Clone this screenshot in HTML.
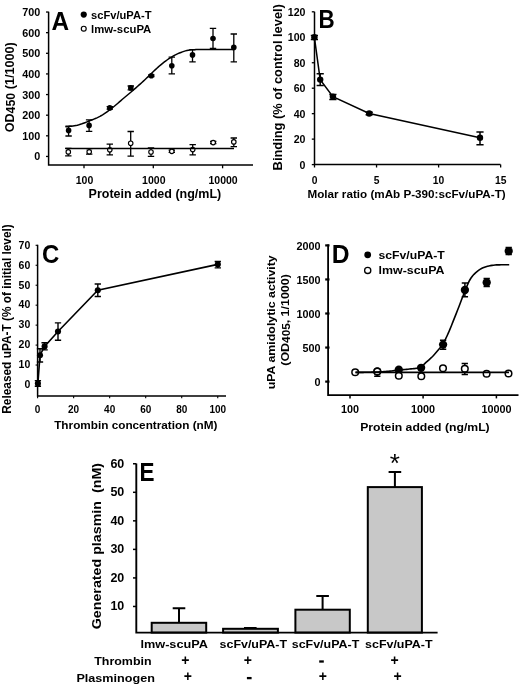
<!DOCTYPE html>
<html><head><meta charset="utf-8"><style>
html,body{margin:0;padding:0;background:#fff;}
svg{display:block;filter:grayscale(1);}
text{font-family:"Liberation Sans", sans-serif;fill:#000;white-space:pre;}
</style></head><body>
<svg width="520" height="686" viewBox="0 0 520 686" stroke="#000" fill="none">
<rect x="0" y="0" width="520" height="686" fill="#fff" stroke="none"/>
<g stroke="#000">
<path d="M48.6,11.8V165.0H253" stroke-width="1.5" fill="none"/>
<line x1="46.00" y1="156.45" x2="48.60" y2="156.45" stroke-width="1.3"/>
<text stroke="none" x="40.30" y="160.45" font-size="10.8" text-anchor="end" font-weight="bold" >0</text>
<line x1="46.00" y1="135.82" x2="48.60" y2="135.82" stroke-width="1.3"/>
<text stroke="none" x="40.30" y="139.82" font-size="10.8" text-anchor="end" font-weight="bold" >100</text>
<line x1="46.00" y1="115.19" x2="48.60" y2="115.19" stroke-width="1.3"/>
<text stroke="none" x="40.30" y="119.19" font-size="10.8" text-anchor="end" font-weight="bold" >200</text>
<line x1="46.00" y1="94.56" x2="48.60" y2="94.56" stroke-width="1.3"/>
<text stroke="none" x="40.30" y="98.56" font-size="10.8" text-anchor="end" font-weight="bold" >300</text>
<line x1="46.00" y1="73.93" x2="48.60" y2="73.93" stroke-width="1.3"/>
<text stroke="none" x="40.30" y="77.93" font-size="10.8" text-anchor="end" font-weight="bold" >400</text>
<line x1="46.00" y1="53.30" x2="48.60" y2="53.30" stroke-width="1.3"/>
<text stroke="none" x="40.30" y="57.30" font-size="10.8" text-anchor="end" font-weight="bold" >500</text>
<line x1="46.00" y1="32.67" x2="48.60" y2="32.67" stroke-width="1.3"/>
<text stroke="none" x="40.30" y="36.67" font-size="10.8" text-anchor="end" font-weight="bold" >600</text>
<line x1="46.00" y1="12.04" x2="48.60" y2="12.04" stroke-width="1.3"/>
<text stroke="none" x="40.30" y="16.04" font-size="10.8" text-anchor="end" font-weight="bold" >700</text>
<line x1="84.00" y1="165.00" x2="84.00" y2="168.30" stroke-width="1.3"/>
<text stroke="none" x="84.50" y="183.80" font-size="10.5" text-anchor="middle" font-weight="bold" >100</text>
<line x1="153.30" y1="165.00" x2="153.30" y2="168.30" stroke-width="1.3"/>
<text stroke="none" x="153.80" y="183.80" font-size="10.5" text-anchor="middle" font-weight="bold" >1000</text>
<line x1="222.60" y1="165.00" x2="222.60" y2="168.30" stroke-width="1.3"/>
<text stroke="none" x="223.10" y="183.80" font-size="10.5" text-anchor="middle" font-weight="bold" >10000</text>
<text stroke="none" x="88.60" y="198.00" font-size="12.3" text-anchor="start" font-weight="bold" textLength="132.60" lengthAdjust="spacingAndGlyphs" >Protein added (ng/mL)</text>
<text stroke="none" transform="translate(13.6,132.3) rotate(-90)" font-size="12.3" font-weight="bold" textLength="90" lengthAdjust="spacingAndGlyphs">OD<tspan dy="1.8" font-size="12">450</tspan><tspan dy="-1.8"> (1/1000)</tspan></text>
<text stroke="none" x="51.60" y="29.90" font-size="25.8" text-anchor="start" font-weight="bold" textLength="17.60" lengthAdjust="spacingAndGlyphs" >A</text>
<circle cx="83.75" cy="14.60" r="3.1" fill="#000" stroke="none"/>
<circle cx="83.75" cy="28.70" r="2.45" fill="#fff" stroke-width="1.2"/>
<text stroke="none" x="91.00" y="18.90" font-size="11.0" text-anchor="start" font-weight="bold" textLength="60.50" lengthAdjust="spacingAndGlyphs" >scFv/uPA-T</text>
<text stroke="none" x="91.00" y="33.20" font-size="11.0" text-anchor="start" font-weight="bold" textLength="60.30" lengthAdjust="spacingAndGlyphs" >lmw-scuPA</text>
<path d="M68.60,126.20V136.00M65.40,126.20h6.4M65.40,136.00h6.4" stroke-width="1.3" fill="none"/>
<path d="M89.10,119.90V131.30M85.90,119.90h6.4M85.90,131.30h6.4" stroke-width="1.3" fill="none"/>
<path d="M109.80,106.70V109.20M106.60,106.70h6.4M106.60,109.20h6.4" stroke-width="1.3" fill="none"/>
<path d="M130.80,86.00V89.80M127.60,86.00h6.4M127.60,89.80h6.4" stroke-width="1.3" fill="none"/>
<path d="M151.30,75.00V76.60M148.10,75.00h6.4M148.10,76.60h6.4" stroke-width="1.3" fill="none"/>
<path d="M171.80,57.20V73.90M168.60,57.20h6.4M168.60,73.90h6.4" stroke-width="1.3" fill="none"/>
<path d="M192.50,49.60V61.80M189.30,49.60h6.4M189.30,61.80h6.4" stroke-width="1.3" fill="none"/>
<path d="M213.00,28.30V48.50M209.80,28.30h6.4M209.80,48.50h6.4" stroke-width="1.3" fill="none"/>
<path d="M233.80,34.00V61.80M230.60,34.00h6.4M230.60,61.80h6.4" stroke-width="1.3" fill="none"/>
<path d="M68.30,148.30V155.90M65.10,148.30h6.4M65.10,155.90h6.4" stroke-width="1.3" fill="none"/>
<path d="M89.20,148.70V154.20M86.00,148.70h6.4M86.00,154.20h6.4" stroke-width="1.3" fill="none"/>
<path d="M109.80,144.20V154.80M106.60,144.20h6.4M106.60,154.80h6.4" stroke-width="1.3" fill="none"/>
<path d="M130.70,131.50V156.20M127.50,131.50h6.4M127.50,156.20h6.4" stroke-width="1.3" fill="none"/>
<path d="M151.00,147.80V156.30M147.80,147.80h6.4M147.80,156.30h6.4" stroke-width="1.3" fill="none"/>
<path d="M171.80,150.20V152.40M168.60,150.20h6.4M168.60,152.40h6.4" stroke-width="1.3" fill="none"/>
<path d="M192.70,144.70V154.80M189.50,144.70h6.4M189.50,154.80h6.4" stroke-width="1.3" fill="none"/>
<path d="M213.20,141.50V143.60M210.00,141.50h6.4M210.00,143.60h6.4" stroke-width="1.3" fill="none"/>
<path d="M233.80,138.00V146.60M230.60,138.00h6.4M230.60,146.60h6.4" stroke-width="1.3" fill="none"/>
<circle cx="68.60" cy="130.40" r="2.8" fill="#000" stroke="none"/>
<circle cx="89.10" cy="125.40" r="2.8" fill="#000" stroke="none"/>
<circle cx="109.80" cy="107.90" r="2.8" fill="#000" stroke="none"/>
<circle cx="130.80" cy="87.90" r="2.8" fill="#000" stroke="none"/>
<circle cx="151.30" cy="75.80" r="2.8" fill="#000" stroke="none"/>
<circle cx="171.80" cy="65.70" r="2.8" fill="#000" stroke="none"/>
<circle cx="192.50" cy="54.90" r="2.8" fill="#000" stroke="none"/>
<circle cx="213.00" cy="38.50" r="2.8" fill="#000" stroke="none"/>
<circle cx="233.80" cy="47.40" r="2.8" fill="#000" stroke="none"/>
<circle cx="68.30" cy="151.90" r="2.25" fill="#fff" stroke-width="1.15"/>
<circle cx="89.20" cy="151.80" r="2.25" fill="#fff" stroke-width="1.15"/>
<circle cx="109.80" cy="149.80" r="2.25" fill="#fff" stroke-width="1.15"/>
<circle cx="130.70" cy="143.20" r="2.25" fill="#fff" stroke-width="1.15"/>
<circle cx="151.00" cy="152.00" r="2.25" fill="#fff" stroke-width="1.15"/>
<circle cx="171.80" cy="151.30" r="2.25" fill="#fff" stroke-width="1.15"/>
<circle cx="192.70" cy="149.60" r="2.25" fill="#fff" stroke-width="1.15"/>
<circle cx="213.20" cy="142.60" r="2.25" fill="#fff" stroke-width="1.15"/>
<circle cx="233.80" cy="141.90" r="2.25" fill="#fff" stroke-width="1.15"/>
<path d="M65.40,126.70 L66.90,126.64 L68.40,126.53 L69.90,126.37 L71.40,126.18 L72.90,125.95 L74.40,125.71 L75.90,125.45 L77.40,125.16 L78.90,124.78 L80.40,124.33 L81.90,123.82 L83.40,123.26 L84.90,122.68 L86.40,122.07 L87.90,121.47 L89.40,120.88 L90.90,120.30 L92.40,119.71 L93.90,119.11 L95.40,118.48 L96.90,117.82 L98.40,117.11 L99.90,116.35 L101.40,115.53 L102.90,114.62 L104.40,113.65 L105.90,112.62 L107.40,111.55 L108.90,110.45 L110.40,109.33 L111.90,108.20 L113.40,107.02 L114.90,105.78 L116.40,104.51 L117.90,103.21 L119.40,101.90 L120.90,100.59 L122.40,99.29 L123.90,98.03 L125.40,96.77 L126.90,95.52 L128.40,94.27 L129.90,93.01 L131.40,91.75 L132.90,90.47 L134.40,89.17 L135.90,87.86 L137.40,86.53 L138.90,85.18 L140.40,83.82 L141.90,82.45 L143.40,81.08 L144.90,79.70 L146.40,78.31 L147.90,76.90 L149.40,75.45 L150.90,73.99 L152.40,72.51 L153.90,71.05 L155.40,69.60 L156.90,68.20 L158.40,66.84 L159.90,65.55 L161.40,64.32 L162.90,63.12 L164.40,61.95 L165.90,60.82 L167.40,59.75 L168.90,58.74 L170.40,57.79 L171.90,56.87 L173.40,55.97 L174.90,55.12 L176.40,54.33 L177.90,53.62 L179.40,53.00 L180.90,52.43 L182.40,51.87 L183.90,51.35 L185.40,50.87 L186.90,50.48 L188.40,50.17 L189.90,49.99 L191.40,49.87 L192.90,49.77 L194.40,49.68 L195.90,49.60 L197.40,49.55 L198.90,49.51 L200.40,49.50 L201.90,49.49 L203.40,49.48 L204.90,49.47 L206.40,49.46 L207.90,49.46 L209.40,49.45 L210.90,49.44 L212.40,49.44 L213.90,49.43 L215.40,49.43 L216.90,49.42 L218.40,49.42 L219.90,49.41 L221.40,49.41 L222.90,49.41 L224.40,49.41 L225.90,49.40 L227.40,49.40 L228.90,49.40 L230.40,49.40 L231.90,49.40 L233.40,49.40 L234.00,49.40" stroke-width="1.5" fill="none"/>
<line x1="65.40" y1="148.50" x2="234.00" y2="148.50" stroke-width="1.5"/>
<path d="M314.5,11.8V164.6H500.5" stroke-width="1.5" fill="none"/>
<line x1="311.80" y1="164.60" x2="314.50" y2="164.60" stroke-width="1.3"/>
<text stroke="none" x="305.50" y="168.50" font-size="10.6" text-anchor="end" font-weight="bold" >0</text>
<line x1="311.80" y1="139.13" x2="314.50" y2="139.13" stroke-width="1.3"/>
<text stroke="none" x="305.50" y="143.03" font-size="10.6" text-anchor="end" font-weight="bold" >20</text>
<line x1="311.80" y1="113.67" x2="314.50" y2="113.67" stroke-width="1.3"/>
<text stroke="none" x="305.50" y="117.57" font-size="10.6" text-anchor="end" font-weight="bold" >40</text>
<line x1="311.80" y1="88.20" x2="314.50" y2="88.20" stroke-width="1.3"/>
<text stroke="none" x="305.50" y="92.10" font-size="10.6" text-anchor="end" font-weight="bold" >60</text>
<line x1="311.80" y1="62.74" x2="314.50" y2="62.74" stroke-width="1.3"/>
<text stroke="none" x="305.50" y="66.64" font-size="10.6" text-anchor="end" font-weight="bold" >80</text>
<line x1="311.80" y1="37.27" x2="314.50" y2="37.27" stroke-width="1.3"/>
<text stroke="none" x="305.50" y="41.17" font-size="10.6" text-anchor="end" font-weight="bold" >100</text>
<line x1="311.80" y1="11.80" x2="314.50" y2="11.80" stroke-width="1.3"/>
<text stroke="none" x="305.50" y="15.70" font-size="10.6" text-anchor="end" font-weight="bold" >120</text>
<line x1="314.50" y1="164.60" x2="314.50" y2="167.50" stroke-width="1.3"/>
<text stroke="none" x="314.50" y="183.90" font-size="10.3" text-anchor="middle" font-weight="bold" >0</text>
<line x1="376.55" y1="164.60" x2="376.55" y2="167.50" stroke-width="1.3"/>
<text stroke="none" x="376.55" y="183.90" font-size="10.3" text-anchor="middle" font-weight="bold" >5</text>
<line x1="438.60" y1="164.60" x2="438.60" y2="167.50" stroke-width="1.3"/>
<text stroke="none" x="438.60" y="183.90" font-size="10.3" text-anchor="middle" font-weight="bold" >10</text>
<line x1="500.65" y1="164.60" x2="500.65" y2="167.50" stroke-width="1.3"/>
<text stroke="none" x="500.65" y="183.90" font-size="10.3" text-anchor="middle" font-weight="bold" >15</text>
<text stroke="none" x="307.50" y="197.80" font-size="11.5" text-anchor="start" font-weight="bold" textLength="198.20" lengthAdjust="spacingAndGlyphs" >Molar ratio (mAb P-390:scFv/uPA-T)</text>
<text stroke="none" transform="translate(281.90,170.40) rotate(-90)" font-size="13.0" text-anchor="start" font-weight="bold" textLength="166.30" lengthAdjust="spacingAndGlyphs">Binding (% of control level)</text>
<text stroke="none" x="318.60" y="27.90" font-size="25.8" text-anchor="start" font-weight="bold" textLength="16.20" lengthAdjust="spacingAndGlyphs" >B</text>
<path d="M314.4,37.3 L320.2,79.6 L332.9,96.6 L369.2,113.5 L480.0,137.8" stroke-width="1.5" fill="none"/>
<path d="M314.40,35.50V39.60M310.80,35.50h7.2M310.80,39.60h7.2" stroke-width="1.5" fill="none"/>
<circle cx="314.40" cy="37.30" r="3.2" fill="#000" stroke="none"/>
<path d="M320.20,73.70V85.40M316.60,73.70h7.2M316.60,85.40h7.2" stroke-width="1.5" fill="none"/>
<circle cx="320.20" cy="79.60" r="3.2" fill="#000" stroke="none"/>
<path d="M332.90,94.40V99.60M329.30,94.40h7.2M329.30,99.60h7.2" stroke-width="1.5" fill="none"/>
<circle cx="332.90" cy="96.60" r="3.2" fill="#000" stroke="none"/>
<path d="M369.20,112.30V114.70M365.60,112.30h7.2M365.60,114.70h7.2" stroke-width="1.5" fill="none"/>
<circle cx="369.20" cy="113.50" r="3.2" fill="#000" stroke="none"/>
<path d="M480.00,131.90V144.70M476.40,131.90h7.2M476.40,144.70h7.2" stroke-width="1.5" fill="none"/>
<circle cx="480.00" cy="137.80" r="3.2" fill="#000" stroke="none"/>
<path d="M37.6,244.7V396H226" stroke-width="1.5" fill="none"/>
<line x1="35.60" y1="385.00" x2="37.60" y2="385.00" stroke-width="1.1"/>
<text stroke="none" x="30.30" y="388.30" font-size="10.5" text-anchor="end" font-weight="bold" >0</text>
<line x1="35.60" y1="365.04" x2="37.60" y2="365.04" stroke-width="1.1"/>
<text stroke="none" x="30.30" y="368.34" font-size="10.5" text-anchor="end" font-weight="bold" >10</text>
<line x1="35.60" y1="345.09" x2="37.60" y2="345.09" stroke-width="1.1"/>
<text stroke="none" x="30.30" y="348.39" font-size="10.5" text-anchor="end" font-weight="bold" >20</text>
<line x1="35.60" y1="325.13" x2="37.60" y2="325.13" stroke-width="1.1"/>
<text stroke="none" x="30.30" y="328.43" font-size="10.5" text-anchor="end" font-weight="bold" >30</text>
<line x1="35.60" y1="305.17" x2="37.60" y2="305.17" stroke-width="1.1"/>
<text stroke="none" x="30.30" y="308.47" font-size="10.5" text-anchor="end" font-weight="bold" >40</text>
<line x1="35.60" y1="285.22" x2="37.60" y2="285.22" stroke-width="1.1"/>
<text stroke="none" x="30.30" y="288.52" font-size="10.5" text-anchor="end" font-weight="bold" >50</text>
<line x1="35.60" y1="265.26" x2="37.60" y2="265.26" stroke-width="1.1"/>
<text stroke="none" x="30.30" y="268.56" font-size="10.5" text-anchor="end" font-weight="bold" >60</text>
<line x1="35.60" y1="245.30" x2="37.60" y2="245.30" stroke-width="1.1"/>
<text stroke="none" x="30.30" y="248.60" font-size="10.5" text-anchor="end" font-weight="bold" >70</text>
<line x1="37.60" y1="396.00" x2="37.60" y2="398.30" stroke-width="1.1"/>
<text stroke="none" x="37.60" y="412.60" font-size="10.0" text-anchor="middle" font-weight="bold" >0</text>
<line x1="73.63" y1="396.00" x2="73.63" y2="398.30" stroke-width="1.1"/>
<text stroke="none" x="73.63" y="412.60" font-size="10.0" text-anchor="middle" font-weight="bold" >20</text>
<line x1="109.66" y1="396.00" x2="109.66" y2="398.30" stroke-width="1.1"/>
<text stroke="none" x="109.66" y="412.60" font-size="10.0" text-anchor="middle" font-weight="bold" >40</text>
<line x1="145.69" y1="396.00" x2="145.69" y2="398.30" stroke-width="1.1"/>
<text stroke="none" x="145.69" y="412.60" font-size="10.0" text-anchor="middle" font-weight="bold" >60</text>
<line x1="181.72" y1="396.00" x2="181.72" y2="398.30" stroke-width="1.1"/>
<text stroke="none" x="181.72" y="412.60" font-size="10.0" text-anchor="middle" font-weight="bold" >80</text>
<line x1="217.75" y1="396.00" x2="217.75" y2="398.30" stroke-width="1.1"/>
<text stroke="none" x="217.75" y="412.60" font-size="10.0" text-anchor="middle" font-weight="bold" >100</text>
<text stroke="none" x="54.20" y="428.60" font-size="11.7" text-anchor="start" font-weight="bold" textLength="163.30" lengthAdjust="spacingAndGlyphs" >Thrombin concentration (nM)</text>
<text stroke="none" transform="translate(10.90,413.70) rotate(-90)" font-size="12.3" text-anchor="start" font-weight="bold" textLength="189.50" lengthAdjust="spacingAndGlyphs">Released uPA-T (% of initial level)</text>
<text stroke="none" x="42.10" y="262.60" font-size="25.3" text-anchor="start" font-weight="bold" textLength="17.30" lengthAdjust="spacingAndGlyphs" >C</text>
<path d="M37.9,383.4 L40.0,355.2 L44.6,346.4 L58.0,331.5 L97.8,290.3 L217.8,264.4" stroke-width="1.6" fill="none"/>
<path d="M37.90,380.60V386.30M34.75,380.60h6.3M34.75,386.30h6.3" stroke-width="1.4" fill="none"/>
<circle cx="37.90" cy="383.40" r="3.05" fill="#000" stroke="none"/>
<path d="M40.00,348.80V362.00M36.85,348.80h6.3M36.85,362.00h6.3" stroke-width="1.4" fill="none"/>
<circle cx="40.00" cy="355.20" r="3.05" fill="#000" stroke="none"/>
<path d="M44.60,342.70V349.90M41.45,342.70h6.3M41.45,349.90h6.3" stroke-width="1.4" fill="none"/>
<circle cx="44.60" cy="346.40" r="3.05" fill="#000" stroke="none"/>
<path d="M58.00,322.90V340.20M54.85,322.90h6.3M54.85,340.20h6.3" stroke-width="1.4" fill="none"/>
<circle cx="58.00" cy="331.50" r="3.05" fill="#000" stroke="none"/>
<path d="M97.80,284.00V296.50M94.65,284.00h6.3M94.65,296.50h6.3" stroke-width="1.4" fill="none"/>
<circle cx="97.80" cy="290.30" r="3.05" fill="#000" stroke="none"/>
<path d="M217.80,261.50V267.90M214.65,261.50h6.3M214.65,267.90h6.3" stroke-width="1.4" fill="none"/>
<circle cx="217.80" cy="264.40" r="3.05" fill="#000" stroke="none"/>
<path d="M328.1,244.6V395.2H518.5" stroke-width="1.8" fill="none"/>
<line x1="325.20" y1="381.60" x2="329.50" y2="381.60" stroke-width="2.2"/>
<text stroke="none" x="320.60" y="385.80" font-size="10.8" text-anchor="end" font-weight="bold" >0</text>
<line x1="325.20" y1="347.55" x2="329.50" y2="347.55" stroke-width="2.2"/>
<text stroke="none" x="320.60" y="351.75" font-size="10.8" text-anchor="end" font-weight="bold" >500</text>
<line x1="325.20" y1="313.50" x2="329.50" y2="313.50" stroke-width="2.2"/>
<text stroke="none" x="320.60" y="317.70" font-size="10.8" text-anchor="end" font-weight="bold" >1000</text>
<line x1="325.20" y1="279.45" x2="329.50" y2="279.45" stroke-width="2.2"/>
<text stroke="none" x="320.60" y="283.65" font-size="10.8" text-anchor="end" font-weight="bold" >1500</text>
<line x1="325.20" y1="245.40" x2="329.50" y2="245.40" stroke-width="2.2"/>
<text stroke="none" x="320.60" y="249.60" font-size="10.8" text-anchor="end" font-weight="bold" >2000</text>
<line x1="350.00" y1="395.20" x2="350.00" y2="398.40" stroke-width="1.5"/>
<text stroke="none" x="350.00" y="413.10" font-size="10.8" text-anchor="middle" font-weight="bold" >100</text>
<line x1="423.10" y1="395.20" x2="423.10" y2="398.40" stroke-width="1.5"/>
<text stroke="none" x="423.10" y="413.10" font-size="10.8" text-anchor="middle" font-weight="bold" >1000</text>
<line x1="496.40" y1="395.20" x2="496.40" y2="398.40" stroke-width="1.5"/>
<text stroke="none" x="496.40" y="413.10" font-size="10.8" text-anchor="middle" font-weight="bold" >10000</text>
<text stroke="none" x="360.20" y="430.80" font-size="11.7" text-anchor="start" font-weight="bold" textLength="129.50" lengthAdjust="spacingAndGlyphs" >Protein added (ng/mL)</text>
<text stroke="none" transform="translate(274.50,389.30) rotate(-90)" font-size="11.0" text-anchor="start" font-weight="bold" textLength="134.00" lengthAdjust="spacingAndGlyphs">uPA amidolytic activity</text>
<text stroke="none" transform="translate(288.70,365.70) rotate(-90)" font-size="11.0" text-anchor="start" font-weight="bold" textLength="91.50" lengthAdjust="spacingAndGlyphs">(OD<tspan dy="1.5" font-size="10.4">405</tspan><tspan dy="-1.5">, 1/1000)</tspan></text>
<text stroke="none" x="331.70" y="263.40" font-size="25.6" text-anchor="start" font-weight="bold" textLength="17.80" lengthAdjust="spacingAndGlyphs" >D</text>
<circle cx="367.70" cy="254.80" r="3.4" fill="#000" stroke="none"/>
<circle cx="367.70" cy="270.40" r="3.1" fill="#fff" stroke-width="1.3"/>
<text stroke="none" x="378.50" y="259.30" font-size="11.2" text-anchor="start" font-weight="bold" textLength="66.30" lengthAdjust="spacingAndGlyphs" >scFv/uPA-T</text>
<text stroke="none" x="378.50" y="274.30" font-size="11.2" text-anchor="start" font-weight="bold" textLength="66.00" lengthAdjust="spacingAndGlyphs" >lmw-scuPA</text>
<path d="M464.80,363.60V374.60M461.65,363.60h6.3M461.65,374.60h6.3" stroke-width="1.5" fill="none"/>
<path d="M377.30,370.00V376.20M374.15,370.00h6.3M374.15,376.20h6.3" stroke-width="1.5" fill="none"/>
<path d="M443.10,340.20V349.20M439.95,340.20h6.3M439.95,349.20h6.3" stroke-width="1.5" fill="none"/>
<path d="M464.90,282.90V296.80M461.75,282.90h6.3M461.75,296.80h6.3" stroke-width="1.5" fill="none"/>
<path d="M486.70,278.50V286.50M483.55,278.50h6.3M483.55,286.50h6.3" stroke-width="1.5" fill="none"/>
<path d="M508.70,247.60V254.60M505.55,247.60h6.3M505.55,254.60h6.3" stroke-width="1.5" fill="none"/>
<circle cx="377.30" cy="371.50" r="4.15" fill="#000" stroke="none"/>
<circle cx="398.80" cy="369.70" r="4.15" fill="#000" stroke="none"/>
<circle cx="421.10" cy="367.80" r="4.15" fill="#000" stroke="none"/>
<circle cx="443.10" cy="344.60" r="4.15" fill="#000" stroke="none"/>
<circle cx="464.90" cy="290.00" r="4.15" fill="#000" stroke="none"/>
<circle cx="486.70" cy="282.50" r="4.15" fill="#000" stroke="none"/>
<circle cx="508.70" cy="251.10" r="4.15" fill="#000" stroke="none"/>
<circle cx="355.20" cy="372.30" r="3.3" fill="#fff" stroke-width="1.5"/>
<circle cx="377.30" cy="371.50" r="3.3" fill="#fff" stroke-width="1.5"/>
<circle cx="398.80" cy="375.80" r="3.3" fill="#fff" stroke-width="1.5"/>
<circle cx="421.30" cy="376.20" r="3.3" fill="#fff" stroke-width="1.5"/>
<circle cx="443.00" cy="368.30" r="3.3" fill="#fff" stroke-width="1.5"/>
<circle cx="464.80" cy="368.80" r="3.3" fill="#fff" stroke-width="1.5"/>
<circle cx="486.60" cy="373.80" r="3.3" fill="#fff" stroke-width="1.5"/>
<circle cx="508.50" cy="373.50" r="3.3" fill="#fff" stroke-width="1.5"/>
<path d="M355.50,372.40 L357.00,372.40 L358.50,372.39 L360.00,372.38 L361.50,372.36 L363.00,372.34 L364.50,372.32 L366.00,372.29 L367.50,372.26 L369.00,372.23 L370.50,372.20 L372.00,372.16 L373.50,372.12 L375.00,372.07 L376.50,372.03 L378.00,371.98 L379.50,371.92 L381.00,371.84 L382.50,371.74 L384.00,371.63 L385.50,371.51 L387.00,371.38 L388.50,371.26 L390.00,371.10 L391.50,370.93 L393.00,370.74 L394.50,370.54 L396.00,370.35 L397.50,370.17 L399.00,370.00 L400.50,369.85 L402.00,369.72 L403.50,369.60 L405.00,369.47 L406.50,369.35 L408.00,369.21 L409.50,369.06 L411.00,368.89 L412.50,368.74 L414.00,368.58 L415.50,368.41 L417.00,368.19 L418.50,367.92 L420.00,367.58 L421.50,367.06 L423.00,365.62 L424.50,363.82 L426.00,362.38 L427.50,361.07 L429.00,359.78 L430.50,358.45 L432.00,357.00 L433.50,355.44 L435.00,353.80 L436.50,352.09 L438.00,350.32 L439.50,348.54 L441.00,346.70 L442.50,344.61 L444.00,342.09 L445.50,339.16 L447.00,335.98 L448.50,332.69 L450.00,329.17 L451.50,325.45 L453.00,321.66 L454.50,317.90 L456.00,314.12 L457.50,310.30 L459.00,306.46 L460.50,302.55 L462.00,298.59 L463.50,294.72 L465.00,291.04 L466.50,287.30 L468.00,283.68 L469.50,280.49 L471.00,278.01 L472.50,276.02 L474.00,274.32 L475.50,272.86 L477.00,271.56 L478.50,270.39 L480.00,269.38 L481.50,268.55 L483.00,267.84 L484.50,267.23 L486.00,266.72 L487.50,266.29 L489.00,265.91 L490.50,265.59 L492.00,265.36 L493.50,265.17 L495.00,265.02 L496.50,264.92 L498.00,264.87 L499.50,264.83 L501.00,264.79 L502.50,264.76 L504.00,264.74 L505.50,264.72 L507.00,264.71 L508.50,264.70 L509.20,264.70" stroke-width="1.6" fill="none"/>
<line x1="355.50" y1="372.40" x2="509.00" y2="372.40" stroke-width="1.6"/>
<line x1="133.00" y1="606.46" x2="136.30" y2="606.46" stroke-width="1.5"/>
<text stroke="none" x="124.30" y="610.36" font-size="12.2" text-anchor="end" font-weight="bold" textLength="13.90" lengthAdjust="spacingAndGlyphs" >10</text>
<line x1="133.00" y1="577.92" x2="136.30" y2="577.92" stroke-width="1.5"/>
<text stroke="none" x="124.30" y="581.82" font-size="12.2" text-anchor="end" font-weight="bold" textLength="13.90" lengthAdjust="spacingAndGlyphs" >20</text>
<line x1="133.00" y1="549.38" x2="136.30" y2="549.38" stroke-width="1.5"/>
<text stroke="none" x="124.30" y="553.28" font-size="12.2" text-anchor="end" font-weight="bold" textLength="13.90" lengthAdjust="spacingAndGlyphs" >30</text>
<line x1="133.00" y1="520.84" x2="136.30" y2="520.84" stroke-width="1.5"/>
<text stroke="none" x="124.30" y="524.74" font-size="12.2" text-anchor="end" font-weight="bold" textLength="13.90" lengthAdjust="spacingAndGlyphs" >40</text>
<line x1="133.00" y1="492.30" x2="136.30" y2="492.30" stroke-width="1.5"/>
<text stroke="none" x="124.30" y="496.20" font-size="12.2" text-anchor="end" font-weight="bold" textLength="13.90" lengthAdjust="spacingAndGlyphs" >50</text>
<line x1="133.00" y1="463.76" x2="136.30" y2="463.76" stroke-width="1.5"/>
<text stroke="none" x="124.30" y="467.66" font-size="12.2" text-anchor="end" font-weight="bold" textLength="13.90" lengthAdjust="spacingAndGlyphs" >60</text>
<rect x="151.70" y="622.80" width="54.50" height="9.80" fill="#c8c8c8" stroke-width="2"/>
<path d="M179.0,622.8V608.3M172.7,608.3h12.6" stroke-width="2.0" fill="none"/>
<rect x="223.10" y="628.80" width="54.80" height="3.80" fill="#c8c8c8" stroke-width="2"/>
<path d="M250.3,628.8V627.9M244.0,627.9h12.6" stroke-width="2.0" fill="none"/>
<rect x="295.40" y="609.70" width="54.40" height="22.90" fill="#c8c8c8" stroke-width="2"/>
<path d="M322.6,609.7V596.0M316.3,596.0h12.6" stroke-width="2.0" fill="none"/>
<rect x="367.80" y="487.10" width="54.10" height="145.50" fill="#c8c8c8" stroke-width="2"/>
<path d="M394.9,487.1V472.0M388.59999999999997,472.0h12.6" stroke-width="2.0" fill="none"/>
<path d="M136.3,463.5V632.6H437.6" stroke-width="1.9" fill="none"/>
<text stroke="none" x="139.50" y="480.80" font-size="26.4" text-anchor="start" font-weight="bold" textLength="15.00" lengthAdjust="spacingAndGlyphs" >E</text>
<text stroke="none" transform="translate(101.30,629.30) rotate(-90)" font-size="13.4" text-anchor="start" font-weight="bold" textLength="166.30" lengthAdjust="spacingAndGlyphs">Generated plasmin  (nM)</text>
<text stroke="none" x="394.70" y="471.50" font-size="26" text-anchor="middle" font-weight="normal" >*</text>
<text stroke="none" x="174.20" y="648.20" font-size="11.0" text-anchor="middle" font-weight="bold" textLength="67.50" lengthAdjust="spacingAndGlyphs" >lmw-scuPA</text>
<text stroke="none" x="253.30" y="648.20" font-size="11.0" text-anchor="middle" font-weight="bold" textLength="67.50" lengthAdjust="spacingAndGlyphs" >scFv/uPA-T</text>
<text stroke="none" x="325.50" y="648.20" font-size="11.0" text-anchor="middle" font-weight="bold" textLength="67.50" lengthAdjust="spacingAndGlyphs" >scFv/uPA-T</text>
<text stroke="none" x="398.80" y="648.20" font-size="11.0" text-anchor="middle" font-weight="bold" textLength="67.50" lengthAdjust="spacingAndGlyphs" >scFv/uPA-T</text>
<text stroke="none" x="94.20" y="665.00" font-size="11.3" text-anchor="start" font-weight="bold" textLength="57.40" lengthAdjust="spacingAndGlyphs" >Thrombin</text>
<text stroke="none" x="76.40" y="681.80" font-size="11.3" text-anchor="start" font-weight="bold" textLength="78.50" lengthAdjust="spacingAndGlyphs" >Plasminogen</text>
<text stroke="none" x="185.40" y="664.70" font-size="14" text-anchor="middle" font-weight="bold" >+</text>
<text stroke="none" x="247.80" y="664.70" font-size="14" text-anchor="middle" font-weight="bold" >+</text>
<text stroke="none" x="394.60" y="664.70" font-size="14" text-anchor="middle" font-weight="bold" >+</text>
<text stroke="none" x="187.90" y="680.50" font-size="14" text-anchor="middle" font-weight="bold" >+</text>
<text stroke="none" x="322.90" y="680.50" font-size="14" text-anchor="middle" font-weight="bold" >+</text>
<text stroke="none" x="397.60" y="680.50" font-size="14" text-anchor="middle" font-weight="bold" >+</text>
<line x1="319.20" y1="661.50" x2="323.80" y2="661.50" stroke-width="2.3"/>
<line x1="246.90" y1="678.10" x2="251.60" y2="678.10" stroke-width="2.3"/>
</g>
</svg>
</body></html>
